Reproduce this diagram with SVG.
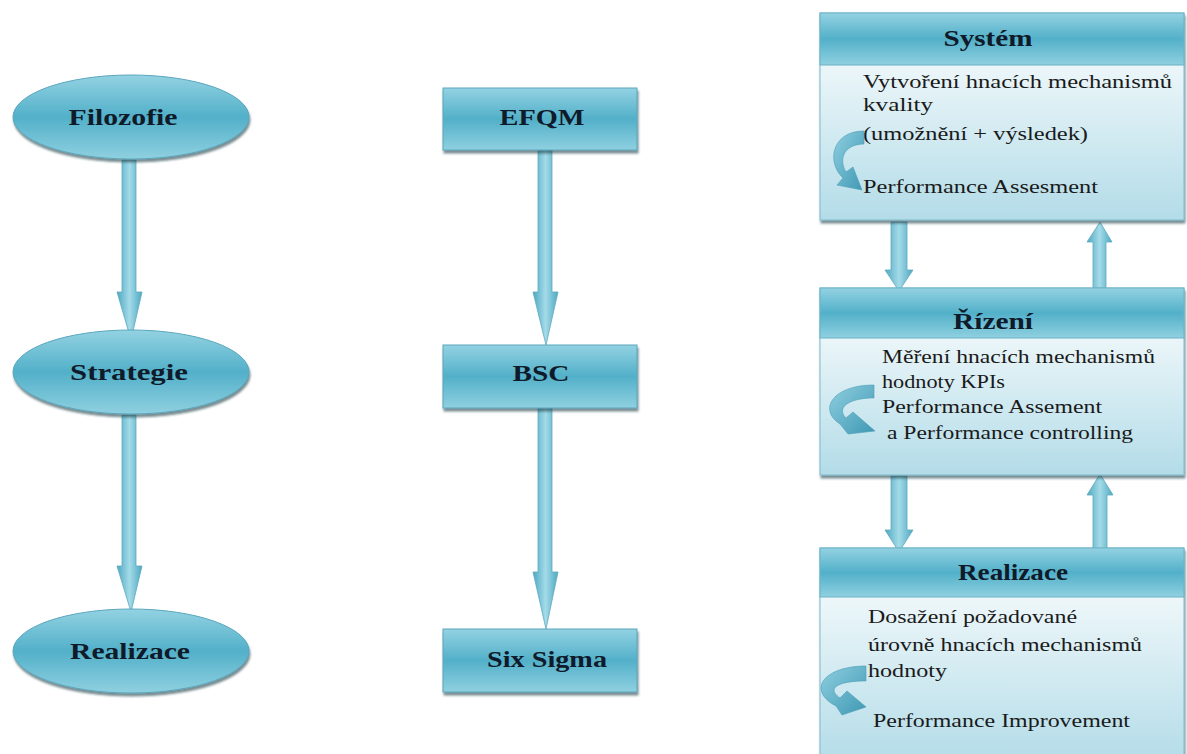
<svg xmlns="http://www.w3.org/2000/svg" width="1187" height="754" viewBox="0 0 1187 754">
  <defs>
    <linearGradient id="tealV" x1="0" y1="0" x2="0" y2="1">
      <stop offset="0" stop-color="#93d2e2"/>
      <stop offset="0.5" stop-color="#52b0c9"/>
      <stop offset="1" stop-color="#8fd0e0"/>
    </linearGradient>
    <linearGradient id="bodyV" x1="0" y1="0" x2="0" y2="1">
      <stop offset="0" stop-color="#ffffff"/>
      <stop offset="1" stop-color="#b3dce8"/>
    </linearGradient>
    <linearGradient id="shaftH" x1="0" y1="0" x2="1" y2="0">
      <stop offset="0" stop-color="#4ea8c2"/>
      <stop offset="0.5" stop-color="#a4dbe8"/>
      <stop offset="1" stop-color="#4ea8c2"/>
    </linearGradient>
    <linearGradient id="curlG" x1="0" y1="0" x2="1" y2="1">
      <stop offset="0" stop-color="#8fcfe0"/>
      <stop offset="1" stop-color="#3f98b4"/>
    </linearGradient>
    <filter id="shadow" x="-10%" y="-10%" width="130%" height="140%">
      <feDropShadow dx="1" dy="3" stdDeviation="1.2" flood-color="#1c3f4a" flood-opacity="0.6"/>
    </filter>
  </defs>
  <style>
    .shape { fill: url(#tealV); stroke: #5aa6bd; stroke-width: 1; filter: url(#shadow); }
    .band { fill: url(#tealV); stroke: #6ab2c6; stroke-width: 1; }
    .body { fill: url(#bodyV); stroke: #7fbccc; stroke-width: 1; filter: url(#shadow); }
    .arrow { fill: url(#shaftH); stroke: #5fa9bf; stroke-width: 0.8; }
    .curl { fill: url(#curlG); stroke: #4c9db6; stroke-width: 0.6; }
    .title { font-family: 'Liberation Serif', 'Times New Roman', serif; font-weight: bold; font-size: 24px; fill: #0f1a2a; text-anchor: middle; }
    .txt { font-family: 'Liberation Serif', 'Times New Roman', serif; font-size: 19px; fill: #1a1a1a; }
  </style>
  <rect width="1187" height="754" fill="#ffffff"/>

  <!-- connectors -->
  <g id="connectors">
    <!-- left column -->
    <polygon class="arrow" points="122,160 136,160 136,292 142,292 131,340 117,292 122,292"/>
    <polygon class="arrow" points="122,415 136,415 136,566 142,566 131,612 117,566 122,566"/>
    <!-- middle column -->
    <polygon class="arrow" points="538,150 552,150 552,292 558,292 546,345 533,292 538,292"/>
    <polygon class="arrow" points="538,408 552,408 552,572 558,572 546,629 533,572 538,572"/>
    <!-- right column: down / up pairs -->
    <polygon class="arrow" points="891,222 907,222 907,270 913,270 899,291 885,270 891,270"/>
    <polygon class="arrow" points="1093,288 1106,288 1106,242 1112,242 1100,222 1087,242 1093,242"/>
    <polygon class="arrow" points="891,476 907,476 907,530 913,530 899,552 885,530 891,530"/>
    <polygon class="arrow" points="1093,549 1107,549 1107,495 1113,495 1100,474 1087,495 1093,495"/>
  </g>

  <!-- left column ellipses -->
  <g id="node-filozofie">
    <ellipse class="shape" cx="131" cy="117" rx="118" ry="42"/>
    <text class="title" x="123" y="125" textLength="109" lengthAdjust="spacingAndGlyphs">Filozofie</text>
  </g>
  <g id="node-strategie">
    <ellipse class="shape" cx="131" cy="372" rx="118" ry="42"/>
    <text class="title" x="129" y="380" textLength="118" lengthAdjust="spacingAndGlyphs">Strategie</text>
  </g>
  <g id="node-realizace-left">
    <ellipse class="shape" cx="131" cy="651" rx="118" ry="42"/>
    <text class="title" x="130" y="659" textLength="120" lengthAdjust="spacingAndGlyphs">Realizace</text>
  </g>

  <!-- middle column boxes -->
  <g id="node-efqm">
    <rect class="shape" x="443" y="88" width="194" height="62"/>
    <text class="title" x="542" y="125" textLength="85" lengthAdjust="spacingAndGlyphs">EFQM</text>
  </g>
  <g id="node-bsc">
    <rect class="shape" x="443" y="345" width="194" height="63"/>
    <text class="title" x="541" y="381" textLength="57" lengthAdjust="spacingAndGlyphs">BSC</text>
  </g>
  <g id="node-sixsigma">
    <rect class="shape" x="443" y="629" width="194" height="63"/>
    <text class="title" x="547" y="667" textLength="120" lengthAdjust="spacingAndGlyphs">Six Sigma</text>
  </g>

  <!-- right column: header + body panels -->
  <g id="node-system">
    <rect class="body" x="820" y="13" width="364" height="207"/>
    <rect class="band" x="820" y="13" width="364" height="52"/>
    <text class="title" x="988" y="46" textLength="89" lengthAdjust="spacingAndGlyphs">Systém</text>
    <text class="txt" x="863" y="88" textLength="309" lengthAdjust="spacingAndGlyphs">Vytvoření hnacích mechanismů</text>
    <text class="txt" x="863" y="111" textLength="70" lengthAdjust="spacingAndGlyphs">kvality</text>
    <text class="txt" x="863" y="140" textLength="225" lengthAdjust="spacingAndGlyphs">(umožnění + výsledek)</text>
    <text class="txt" x="863" y="193" textLength="235" lengthAdjust="spacingAndGlyphs">Performance Assesment</text>
    <path class="curl" d="M 864 131 L 864 144 C 845 144 838 158 846 172 L 853 167 L 862 190 L 837 185 L 843 178 C 826 162 832 131 864 131 Z"/>
  </g>
  <g id="node-rizeni">
    <rect class="body" x="820" y="288" width="364" height="187"/>
    <rect class="band" x="820" y="288" width="364" height="50"/>
    <text class="title" x="993" y="329" textLength="80" lengthAdjust="spacingAndGlyphs">Řízení</text>
    <text class="txt" x="882" y="363" textLength="273" lengthAdjust="spacingAndGlyphs">Měření hnacích mechanismů</text>
    <text class="txt" x="882" y="388" textLength="123" lengthAdjust="spacingAndGlyphs">hodnoty KPIs</text>
    <text class="txt" x="882" y="413" textLength="220" lengthAdjust="spacingAndGlyphs">Performance Assement</text>
    <text class="txt" x="887" y="439" textLength="246" lengthAdjust="spacingAndGlyphs">a Performance controlling</text>
    <path class="curl" d="M 874 385 L 874 398 C 848 398 836 408 846 418 L 853 412 L 875 431 L 848 434 L 840 424 C 818 410 832 385 874 385 Z"/>
  </g>
  <g id="node-realizace-right">
    <rect class="body" x="820" y="548" width="364" height="215"/>
    <rect class="band" x="820" y="548" width="364" height="49"/>
    <text class="title" x="1013" y="580" textLength="110" lengthAdjust="spacingAndGlyphs">Realizace</text>
    <text class="txt" x="868" y="623" textLength="209" lengthAdjust="spacingAndGlyphs">Dosažení požadované</text>
    <text class="txt" x="868" y="651" textLength="274" lengthAdjust="spacingAndGlyphs">úrovně hnacích mechanismů</text>
    <text class="txt" x="868" y="677" textLength="79" lengthAdjust="spacingAndGlyphs">hodnoty</text>
    <text class="txt" x="873" y="727" textLength="257" lengthAdjust="spacingAndGlyphs">Performance Improvement</text>
    <path class="curl" d="M 866 666 L 866 681 C 838 681 826 688 840 698 L 847 691 L 866 707 L 842 715 L 836 706 C 806 690 824 666 866 666 Z"/>
  </g>
</svg>
